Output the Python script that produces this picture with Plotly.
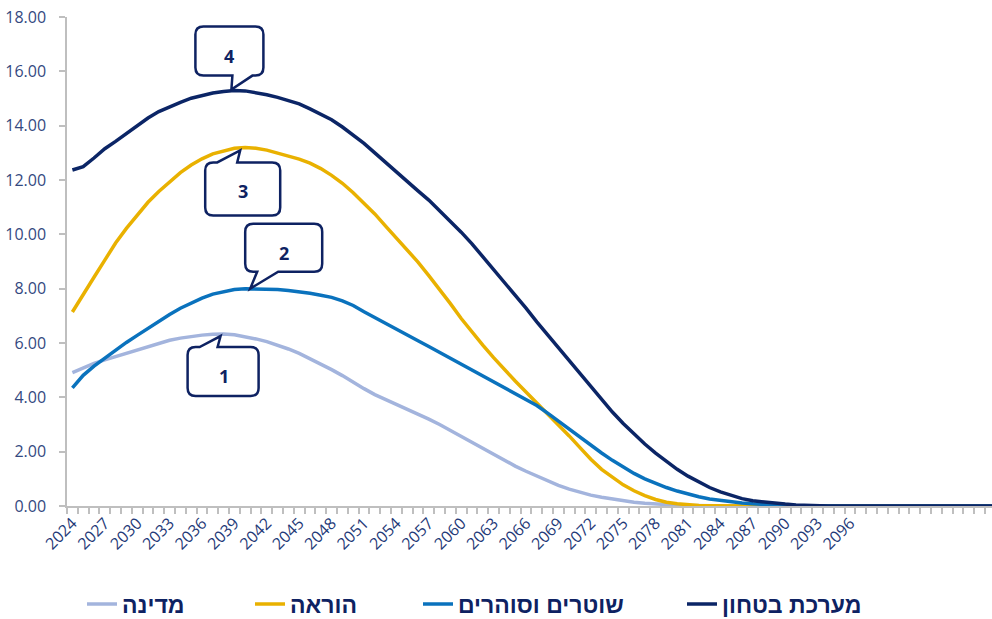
import plotly.graph_objects as go
import numpy as np

# ---------------- data ----------------
years = list(range(2024, 2111))

medina = [4.91, 5.08, 5.25, 5.38, 5.50, 5.63, 5.76, 5.88, 6.00, 6.10,
          6.18, 6.25, 6.29, 6.32, 6.33, 6.30, 6.24, 6.15, 6.05, 5.93,
          5.78, 5.62, 5.43, 5.22, 5.02, 4.80, 4.55, 4.32, 4.10, 3.92,
          3.75, 3.58, 3.38, 3.20, 3.00, 2.78, 2.55, 2.32, 2.10, 1.88,
          1.67, 1.47, 1.28, 1.10, 0.92, 0.76, 0.62, 0.50, 0.40, 0.32,
          0.25, 0.19, 0.14, 0.10, 0.07, 0.05, 0.03, 0.02, 0.01, 0.0]
horaa = [7.14, 7.80, 8.42, 9.05, 9.68, 10.22, 10.72, 11.18, 11.58, 11.93,
         12.27, 12.55, 12.78, 12.96, 13.08, 13.17, 13.20, 13.17, 13.10, 13.00,
         12.89, 12.77, 12.62, 12.42, 12.17, 11.88, 11.53, 11.15, 10.75, 10.30,
         9.85, 9.42, 8.98, 8.48, 7.98, 7.45, 6.90, 6.40, 5.92, 5.46,
         5.02, 4.60, 4.20, 3.80, 3.40, 3.00, 2.58, 2.15, 1.72, 1.35,
         1.05, 0.78, 0.56, 0.38, 0.24, 0.14, 0.08, 0.04, 0.02, 0.01,
         0.005, 0.0]
shotrim = [4.35, 4.81, 5.15, 5.45, 5.75, 6.02, 6.28, 6.54, 6.80, 7.05,
           7.28, 7.47, 7.65, 7.80, 7.90, 7.97, 8.00, 8.00, 7.99, 7.97,
           7.93, 7.89, 7.83, 7.76, 7.68, 7.55, 7.38, 7.15, 6.93, 6.72,
           6.51, 6.30, 6.08, 5.87, 5.65, 5.44, 5.22, 5.01, 4.80, 4.58,
           4.36, 4.14, 3.91, 3.70, 3.42, 3.12, 2.83, 2.53, 2.23, 1.95,
           1.68, 1.43, 1.20, 1.00, 0.83, 0.68, 0.55, 0.44, 0.34, 0.26,
           0.20, 0.15, 0.11, 0.08, 0.05, 0.03, 0.02, 0.01, 0.0]
bitachon = [12.37, 12.49, 12.81, 13.15, 13.42, 13.70, 14.00, 14.28, 14.52, 14.70,
            14.86, 15.01, 15.12, 15.20, 15.26, 15.29, 15.28, 15.22, 15.14, 15.04,
            14.93, 14.80, 14.62, 14.43, 14.22, 13.95, 13.66, 13.35, 13.00, 12.64,
            12.30, 11.95, 11.60, 11.26, 10.88, 10.48, 10.08, 9.65, 9.18, 8.70,
            8.24, 7.77, 7.28, 6.78, 6.30, 5.82, 5.38, 4.90, 4.42, 3.92,
            3.46, 3.04, 2.64, 2.28, 1.95, 1.65, 1.35, 1.10, 0.88, 0.68,
            0.52, 0.38, 0.27, 0.19, 0.14, 0.10, 0.07, 0.04, 0.02, 0.01,
            0.0]

def pad(a):
    return a + [0.0] * (len(years) - len(a))

series = [
    ("מדינה", pad(medina), "#a3b4dd"),
    ("הוראה", pad(horaa), "#e9b100"),
    ("שוטרים וסוהרים", pad(shotrim), "#0a72bd"),
    ("מערכת בטחון", pad(bitachon), "#0b2566"),
]
callout_labels = ["1", "3", "2", "4"]

tick_years = list(range(2024, 2097, 3))
tick_text = [str(y) for y in tick_years]
y_ticks = list(range(0, 19, 2))

# ---------------- geometry ----------------
W, H = 992, 619
ML, MR, MT, MB = 67, 0, 17, 113
X0 = 2023.5
PX_PER_YEAR = 10.8
X1 = X0 + (W - ML - MR) / PX_PER_YEAR
YMAX = 18
PLOT_H = H - MT - MB

def to_px(xv, yv):
    return ML + (xv - X0) * PX_PER_YEAR, MT + PLOT_H * (1 - yv / YMAX)

def to_data(px, py):
    return X0 + (px - ML) / PX_PER_YEAR, YMAX * (1 - (py - MT) / PLOT_H)

NAVY = "#0e2262"

fig = go.Figure()
legend_names = ["legend", "legend2", "legend3", "legend4"]
for (name, vals, col), lg in zip(series, legend_names):
    fig.add_trace(go.Scatter(x=years, y=vals, name=name, mode="lines",
                             line=dict(color=col, width=3.5),
                             legend=lg, hoverinfo="skip"))

# ---------------- callouts ----------------
callout_geom = {
    "4": dict(box=(-39, 29, -64, -15), side="bottom", base=(-2, 18), tip=(-3, -1), text=(-5, -35)),
    "3": dict(box=(-40, 35, 15, 68), side="top", base=(-28, -8), tip=(-5, 3), text=(-2, 44)),
    "2": dict(box=(0, 77, -65, -17), side="bottom", base=(12, 33), tip=(5, 0), text=(39, -36)),
    "1": dict(box=(-36, 35, 13, 62), side="top", base=(-24, -6), tip=(-3, 2), text=(0, 42)),
}

def fmt(px, py):
    xd, yd = to_data(px, py)
    return f"{xd:.4f},{yd:.4f}"

shapes = []
annotations = []
R = 8
for (name, vals, col), lab in zip(series, callout_labels):
    i = int(np.argmax(vals))
    cx, cy = to_px(years[i], vals[i])
    g = callout_geom[lab]
    l, r, t, b = cx + g["box"][0], cx + g["box"][1], cy + g["box"][2], cy + g["box"][3]
    x1, x2 = cx + g["base"][0], cx + g["base"][1]
    tx, ty = cx + g["tip"][0], cy + g["tip"][1]
    if g["side"] == "bottom":
        p = (f"M{fmt(l+R,t)} L{fmt(r-R,t)} Q{fmt(r,t)} {fmt(r,t+R)} L{fmt(r,b-R)} "
             f"Q{fmt(r,b)} {fmt(r-R,b)} L{fmt(x2,b)} L{fmt(tx,ty)} L{fmt(x1,b)} "
             f"L{fmt(l+R,b)} Q{fmt(l,b)} {fmt(l,b-R)} L{fmt(l,t+R)} Q{fmt(l,t)} {fmt(l+R,t)} Z")
    else:
        p = (f"M{fmt(l+R,t)} L{fmt(x1,t)} L{fmt(tx,ty)} L{fmt(x2,t)} L{fmt(r-R,t)} "
             f"Q{fmt(r,t)} {fmt(r,t+R)} L{fmt(r,b-R)} Q{fmt(r,b)} {fmt(r-R,b)} "
             f"L{fmt(l+R,b)} Q{fmt(l,b)} {fmt(l,b-R)} L{fmt(l,t+R)} Q{fmt(l,t)} {fmt(l+R,t)} Z")
    shapes.append(dict(type="path", path=p, xref="x", yref="y",
                       line=dict(color=NAVY, width=2.5), fillcolor="white", layer="above"))
    axd, ayd = to_data(cx + g["text"][0], cy + g["text"][1])
    annotations.append(dict(x=axd, y=ayd, xref="x", yref="y", text=f"<b>{lab}</b>",
                            showarrow=False, font=dict(family="Open Sans", size=18, color=NAVY)))

# ---------------- legends ----------------
legend_text_x = [126, 294, 462, 726]
leg_font = dict(family="Liberation Sans", size=23, color=NAVY, weight="bold")
legend_layouts = {}
for lg, tx in zip(legend_names, legend_text_x):
    legend_layouts[lg] = dict(x=(tx - 44) / W, y=1 - 604 / H,
                              xref="container", yref="container",
                              xanchor="left", yanchor="middle", orientation="h",
                              font=leg_font, bgcolor="rgba(0,0,0,0)", borderwidth=0)

fig.update_layout(
    width=W, height=H,
    margin=dict(l=ML, r=MR, t=MT, b=MB, pad=0, autoexpand=False),
    plot_bgcolor="white", paper_bgcolor="white",
    showlegend=True,
    shapes=shapes, annotations=annotations,
    xaxis=dict(range=[X0, X1], showgrid=False, zeroline=False, automargin=False,
               showline=True, linecolor="#bfbfbf", linewidth=1.5,
               tickvals=tick_years, ticktext=tick_text, tickangle=-45,
               ticks="outside", ticklen=0, tickcolor="#bfbfbf",
               minor=dict(ticks="outside", ticklen=6, tick0=X0, dtick=1,
                          tickcolor="#bfbfbf", tickwidth=1.5, showgrid=False),
               tickfont=dict(family="Open Sans", size=16, color="#1f3a78")),
    yaxis=dict(range=[0, YMAX], tickvals=y_ticks, tickformat=".2f", automargin=False,
               showgrid=False, zeroline=False, showline=True,
               linecolor="#bfbfbf", linewidth=1.5,
               ticks="outside", ticklen=6, tickcolor="#bfbfbf", tickwidth=1.5,
               ticklabelstandoff=10,
               tickfont=dict(family="Open Sans", size=16, color="#34497f")),
    **legend_layouts,
)

fig.write_html("out.html", config={"displayModeBar": False},
               post_script="document.body.style.margin='0';document.body.style.overflow='hidden';")
